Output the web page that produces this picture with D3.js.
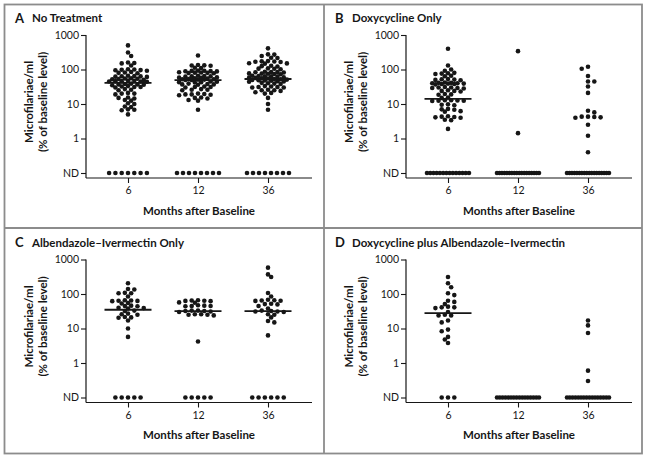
<!DOCTYPE html>
<html>
<head>
<meta charset="utf-8">
<script src="https://cdn.jsdelivr.net/npm/d3@7"></script>
<style>
  html, body { margin: 0; padding: 0; background: #fff; }
  svg { display: block; }
</style>
</head>
<body>
<script>
// ---------------- DATA ----------------
const months = ["6", "12", "36"];
const yTickValues = [0.1, 1, 10, 100, 1000];
const yTickLabels = ["ND", "1", "10", "100", "1000"];
const panelLetters = ["A", "B", "C", "D"];
const panelTitles = ["No Treatment", "Doxycycline Only", "Albendazole\u2013Ivermectin Only", "Doxycycline plus Albendazole\u2013Ivermectin"];
const yLabelLines = ["Microfilariae/ml", "(% of baseline level)"];
const xLabel = "Months after Baseline";
const ndValue = 0.1; // position of the "ND" (not detected) row

// Panel A: No Treatment (detected values, % of baseline)
const noTreatment6 = [500,310,245,155,150,160,130,100,95,98,102,96,92,80,82,78,85,63,65,61,66,62,64,53,55,52,54,50,56,46,47,45,44,48,46,45,37,38,36,39,37,35,31,32,30,31,33,26,27,25,20,21,19,20,15,15.5,14.5,13,12.5,10,10.5,8.5,8.2,6.8,7,6.6,5];
const noTreatment12 = [255,130,128,132,135,110,112,90,92,88,91,89,93,80,82,78,81,79,83,64,65,63,66,62,57,58,56,59,55,51,52,50,53,51,50,52,43,44,42,45,43,37,38,36,37,39,31,32,30,31,26,27,25,26,19,19.5,18.5,20,19,18,15,15.5,14.5,13,12.5,6.8];
const noTreatment36 = [410,275,270,245,220,215,170,175,165,172,168,150,148,152,125,128,122,105,108,102,106,84,86,82,85,83,75,76,74,77,73,64,65,63,66,62,57,58,56,59,55,51,52,50,53,49,46,47,45,44,48,39,40,38,41,31,32,30,31,33,30,25,26,24,25,21,22,20,15,10,6.8];
const noTreatmentND = [7, 8, 8];
const noTreatmentMedian = [41, 49, 53];

// Panel B: Doxycycline Only
const doxy6 = [400,130,100,92,78,76,80,74,64,66,51,52,50,53,49,40,39,41,38,42,37,40,39,41,38,29,30,28,31,29,30,24,25,23,24,19,19.5,18.5,15,15.5,12.5,12.8,12.2,12.6,12.4,12.9,9.5,9.8,9.2,7,7.2,6.8,6,6.2,4.2,4.3,4.1,4.4,4.0,3.5,3.4,1.9];
const doxy12 = [340, 1.43];
const doxy36 = [120,105,65,45,45,32,21,6.4,5.7,4.3,4.1,4.0,4.2,4.3,2.5,1.2,0.4];
const doxyND = [14, 18, 18];
const doxyMedian = [14, null, null];

// Panel C: Albendazole-Ivermectin Only
const albIver6 = [205,140,135,105,105,108,85,64,62,66,65,63,53,55,45,46,44,39,38,40,32,33,26,27,25,21,21.5,20.5,17,10,5.7];
const albIver12 = [64,62,65,63,66,56,57,45,46,44,47,45,33,32,31,32,30,33,25,26,24,25,26,4.2];
const albIver36 = [580,310,370,107,85,68,66,64,63,65,51,52,50,45,38,31,32,30,31,33,26,25,21,16.5,15,6.3];
const albIverND = [5, 5, 6];
const albIverMedian = [35, 32, 32];

// Panel D: Doxycycline plus Albendazole-Ivermectin
const doxyAlb6 = [310,205,157,105,93,64,51,59,39,41,41,43,30,25,24,24,17,15,8.3,9.3,4.8,5.7,3.8];
const doxyAlb12 = [];
const doxyAlb36 = [17,12.3,7.4,0.6,0.3];
const doxyAlbND = [3, 16, 16];
const doxyAlbMedian = [28, null, null];

const panelValues = [
  [noTreatment6, noTreatment12, noTreatment36],
  [doxy6, doxy12, doxy36],
  [albIver6, albIver12, albIver36],
  [doxyAlb6, doxyAlb12, doxyAlb36]
];
const panelND = [noTreatmentND, doxyND, albIverND, doxyAlbND];
const panelMedians = [noTreatmentMedian, doxyMedian, albIverMedian, doxyAlbMedian];

// ---------------- LAYOUT ----------------
const W = 647, H = 459;
const panelOffsets = [[0, 0], [320, 0], [0, 224.5], [320, 224.5]];
const FONT = "Lato, 'Noto Sans', sans-serif";
const INK = "#161616";
const DOT_R = 2.3;
const DX = 6.3, DY = 4.4, HALF = 3.15, MAX_STEPS = 6, MAX_W = 42;

const svg = d3.select("body").append("svg").attr("width", W).attr("height", H);
svg.append("rect").attr("width", W).attr("height", H).attr("fill", "#fff");

// frame
const frameColor = "#8c8c8c";
svg.append("rect").attr("x", 4.5).attr("y", 4.5).attr("width", 637.5).attr("height", 449)
  .attr("fill", "none").attr("stroke", frameColor).attr("stroke-width", 1.8);
svg.append("line").attr("x1", 324).attr("x2", 324).attr("y1", 4.5).attr("y2", 453.5)
  .attr("stroke", frameColor).attr("stroke-width", 1.8);
svg.append("line").attr("x1", 4.5).attr("x2", 642).attr("y1", 228).attr("y2", 228)
  .attr("stroke", frameColor).attr("stroke-width", 1.8);

// column-grid beeswarm with a clamped width (like a scatter dot plot)
function swarm(ys) {
  const pts = ys.map((y, i) => ({ y, i, x: 0 })).sort((a, b) => a.y - b.y || a.i - b.i);
  const placed = [];
  let flip = false;
  for (const p of pts) {
    const near = placed.filter(q => Math.abs(q.y - p.y) < DY);
    flip = !flip;
    let best = null, bestScore = -1;
    for (let k = 0; k <= 2 * MAX_STEPS; k++) {
      const m = k === 0 ? 0 : Math.ceil(k / 2) * (((k % 2 === 1) === flip) ? 1 : -1);
      const c = m * HALF;
      let score = Infinity;
      for (const q of near) {
        score = Math.min(score, Math.abs(c - q.x) / DX + Math.abs(p.y - q.y) / DY);
      }
      if (score >= 0.999) { best = c; bestScore = score; break; }
      if (score > bestScore + 1e-9) { bestScore = score; best = c; }
    }
    p.x = best;
    placed.push(p);
  }
  return pts;
}

function ndRow(n) {
  const s = n > 1 ? Math.min(DX, MAX_W / (n - 1)) : 0;
  return d3.range(n).map(i => (i - (n - 1) / 2) * s);
}

panelValues.forEach((groupsVals, pi) => {
  const [ox, oy] = panelOffsets[pi];
  const g = svg.append("g").attr("transform", `translate(${ox},${oy})`);

  const y = d3.scaleLog().domain([ndValue, 1000]).range([173, 35]);
  const x = d3.scalePoint().domain(months).range([128, 268]);
  const axisX = 86, axisY = 178, axisEnd = 312;

  // y axis
  const yAxis = d3.axisLeft(y).tickValues(yTickValues)
    .tickFormat((d, i) => yTickLabels[i]).tickSize(5).tickPadding(2);
  const ya = g.append("g").attr("transform", `translate(${axisX},0)`).call(yAxis);
  ya.select(".domain").remove();
  g.append("line").attr("x1", axisX).attr("x2", axisX).attr("y1", y(1000)).attr("y2", axisY)
    .attr("stroke", INK).attr("stroke-width", 1.2);

  // x axis
  const xAxis = d3.axisBottom(x).tickSize(5).tickPadding(4);
  const xa = g.append("g").attr("transform", `translate(0,${axisY})`).call(xAxis);
  xa.select(".domain").remove();
  g.append("line").attr("x1", axisX).attr("x2", axisEnd).attr("y1", axisY).attr("y2", axisY)
    .attr("stroke", INK).attr("stroke-width", 1.2);

  [ya, xa].forEach(a => {
    a.selectAll(".tick line").attr("stroke", INK).attr("stroke-width", 1.1);
    a.selectAll(".tick text").attr("fill", INK).style("font-family", FONT).style("font-size", "10.5px");
  });

  // dots
  groupsVals.forEach((vals, gi) => {
    const cx = x(months[gi]);
    const sw = swarm(vals.map(v => y(v)));
    g.append("g").selectAll("circle").data(sw).join("circle")
      .attr("cx", d => cx + d.x).attr("cy", d => d.y).attr("r", DOT_R).attr("fill", INK);
    const nd = ndRow(panelND[pi][gi]);
    g.append("g").selectAll("circle").data(nd).join("circle")
      .attr("cx", d => cx + d).attr("cy", y(ndValue)).attr("r", DOT_R).attr("fill", INK);
    const med = panelMedians[pi][gi];
    if (med != null) {
      g.append("line").attr("x1", cx - 23.5).attr("x2", cx + 23.5)
        .attr("y1", y(med)).attr("y2", y(med)).attr("stroke", INK).attr("stroke-width", 1.8);
    }
  });

  // titles
  g.append("text").attr("x", 15).attr("y", 22.5).text(panelLetters[pi])
    .style("font-family", FONT).style("font-weight", 700).style("font-size", "13px").attr("fill", INK);
  g.append("text").attr("x", 32).attr("y", 22).text(panelTitles[pi])
    .style("font-family", FONT).style("font-weight", 700).style("font-size", "11.5px").attr("fill", INK);

  // y label
  yLabelLines.forEach((t, li) => {
    g.append("text").attr("transform", `translate(${28 + li * 14},102) rotate(-90)`)
      .attr("text-anchor", "middle").attr("dominant-baseline", "central").text(t)
      .style("font-family", FONT).style("font-weight", 700).style("font-size", "11.5px").attr("fill", INK);
  });

  // x label
  g.append("text").attr("x", 199).attr("y", 210).attr("text-anchor", "middle")
    .attr("dominant-baseline", "central").text(xLabel)
    .style("font-family", FONT).style("font-weight", 700).style("font-size", "11.5px").attr("fill", INK);
});
</script>
</body>
</html>
